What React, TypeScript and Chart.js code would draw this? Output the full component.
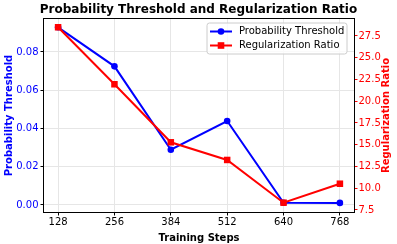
import React, { useEffect, useRef } from "react";
import { Chart, registerables } from "chart.js";
Chart.register(...registerables);

const steps = [128, 256, 384, 512, 640, 768];
const probabilityThreshold = [0.0929, 0.0725, 0.0289, 0.0439, 0.0012, 0.0011];
const regularizationRatio = [28.5, 21.95, 15.28, 13.25, 8.34, 10.52];
const xTicks = [128, 256, 384, 512, 640, 768];
const leftTicks = [0, 0.02, 0.04, 0.06, 0.08];
const rightTicks = [7.5, 10, 12.5, 15, 17.5, 20, 22.5, 25, 27.5];

const FONT = "'DejaVu Sans', sans-serif";
const BLUE = "#0000ff";
const RED = "#ff0000";
const RIGHT_TITLE = "Regularization Ratio";

const framePlugin = {
  id: "frame",
  afterDraw(chart: any) {
    const { ctx, chartArea: a } = chart;
    ctx.save();
    ctx.strokeStyle = "#000";
    ctx.lineWidth = 1;
    ctx.strokeRect(Math.round(a.left) - 0.5, Math.round(a.top) - 0.5, Math.round(a.right - a.left) + 1, Math.round(a.bottom - a.top) + 1);
    // right axis title, rotated like matplotlib (reads bottom to top)
    ctx.translate(386.5, (a.top + a.bottom) / 2);
    ctx.rotate(-Math.PI / 2);
    ctx.fillStyle = RED;
    ctx.font = `bold 10px ${FONT}`;
    ctx.textAlign = "center";
    ctx.textBaseline = "middle";
    ctx.fillText(RIGHT_TITLE, 0, 0);
    ctx.restore();
  },
};

const legendPlugin = {
  id: "customLegend",
  afterDraw(chart: any) {
    const { ctx, chartArea: a } = chart;
    const w = 140;
    const h = 31;
    const x = a.right - 7 - w;
    const y = a.top + 4;
    ctx.save();
    ctx.beginPath();
    const r = 2.5;
    ctx.moveTo(x + r, y);
    ctx.lineTo(x + w - r, y);
    ctx.quadraticCurveTo(x + w, y, x + w, y + r);
    ctx.lineTo(x + w, y + h - r);
    ctx.quadraticCurveTo(x + w, y + h, x + w - r, y + h);
    ctx.lineTo(x + r, y + h);
    ctx.quadraticCurveTo(x, y + h, x, y + h - r);
    ctx.lineTo(x, y + r);
    ctx.quadraticCurveTo(x, y, x + r, y);
    ctx.closePath();
    ctx.fillStyle = "rgba(255,255,255,0.8)";
    ctx.fill();
    ctx.strokeStyle = "#cccccc";
    ctx.lineWidth = 1;
    ctx.stroke();
    const items = [
      { label: "Probability Threshold", color: BLUE, marker: "circle" },
      { label: "Regularization Ratio", color: RED, marker: "rect" },
    ];
    items.forEach((it, i) => {
      const cy = y + 8.5 + i * 14;
      ctx.strokeStyle = it.color;
      ctx.lineWidth = 2;
      ctx.beginPath();
      ctx.moveTo(x + 3, cy);
      ctx.lineTo(x + 25, cy);
      ctx.stroke();
      ctx.fillStyle = it.color;
      if (it.marker === "circle") {
        ctx.beginPath();
        ctx.arc(x + 14, cy, 3.3, 0, Math.PI * 2);
        ctx.fill();
      } else {
        ctx.fillRect(x + 14 - 3.3, cy - 3.3, 6.6, 6.6);
      }
      ctx.fillStyle = "#000";
      ctx.font = `10px ${FONT}`;
      ctx.textBaseline = "middle";
      ctx.textAlign = "left";
      ctx.fillText(it.label, x + 32, cy);
    });
    ctx.restore();
  },
};

export default function App() {
  const ref = useRef<HTMLCanvasElement>(null);
  useEffect(() => {
    if (!ref.current) return;
    const chart = new Chart(ref.current, {
      type: "line",
      data: {
        datasets: [
          {
            label: "Probability Threshold",
            data: steps.map((s, i) => ({ x: s, y: probabilityThreshold[i] })),
            borderColor: BLUE,
            backgroundColor: BLUE,
            borderWidth: 2,
            pointStyle: "circle",
            pointRadius: 3.3,
            pointBorderWidth: 0,
            yAxisID: "y",
            order: 1,
          },
          {
            label: "Regularization Ratio",
            data: steps.map((s, i) => ({ x: s, y: regularizationRatio[i] })),
            borderColor: RED,
            backgroundColor: RED,
            borderWidth: 2,
            pointStyle: "rect",
            pointRadius: 4.6,
            pointBorderWidth: 0,
            yAxisID: "y1",
            order: 0,
          },
        ],
      },
      options: {
        animation: false,
        responsive: true,
        maintainAspectRatio: false,
        layout: { padding: 0 },
        plugins: {
          legend: { display: false },
          tooltip: { enabled: false },
          title: {
            display: true,
            text: "Probability Threshold and Regularization Ratio",
            color: "#000",
            font: { family: FONT, size: 12, weight: "bold", lineHeight: 1.2 },
            padding: { top: 3, bottom: 1.6 },
          },
        },
        scales: {
          x: {
            type: "linear",
            min: 96,
            max: 800,
            afterBuildTicks: (s: any) => {
              s.ticks = xTicks.map((v) => ({ value: v }));
            },
            afterFit: (s: any) => {
              s.height = 32;
            },
            ticks: {
              color: "#000",
              font: { family: FONT, size: 10 },
              padding: 1,
              maxRotation: 0,
              callback: (v: any) => String(v),
            },
            grid: { color: "#e6e6e6", tickColor: "#000", tickLength: 3.5, lineWidth: 1 },
            border: { display: false },
            title: {
              display: true,
              text: "Training Steps",
              color: "#000",
              font: { family: FONT, size: 10, weight: "bold", lineHeight: 1.2 },
              padding: { top: 4.4, bottom: 0 },
            },
          },
          y: {
            type: "linear",
            position: "left",
            min: -0.00366,
            max: 0.09725,
            afterBuildTicks: (s: any) => {
              s.ticks = leftTicks.map((v) => ({ value: v }));
            },
            afterFit: (s: any) => {
              s.width = 44;
            },
            ticks: {
              color: BLUE,
              font: { family: FONT, size: 10 },
              padding: 2,
              callback: (v: any) => Number(v).toFixed(2),
            },
            grid: { color: "#e6e6e6", tickColor: "#000", tickLength: 3.5, lineWidth: 1 },
            border: { display: false },
            title: {
              display: true,
              text: "Probability Threshold",
              color: BLUE,
              font: { family: FONT, size: 10, weight: "bold", lineHeight: 1.2 },
              padding: { top: 3, bottom: 0 },
            },
          },
          y1: {
            type: "linear",
            position: "right",
            min: 7.27,
            max: 29.45,
            afterBuildTicks: (s: any) => {
              s.ticks = rightTicks.map((v) => ({ value: v }));
            },
            afterFit: (s: any) => {
              s.width = 43;
            },
            ticks: {
              color: RED,
              font: { family: FONT, size: 10 },
              padding: 1,
              callback: (v: any) => Number(v).toFixed(1),
            },
            grid: { drawOnChartArea: false, color: RED, tickColor: RED, tickLength: 3.5, lineWidth: 1 },
            border: { display: false },
            title: { display: false },
          },
        },
      },
      plugins: [framePlugin, legendPlugin],
    });
    return () => chart.destroy();
  }, []);
  return (
    <div style={{ position: "absolute", left: 0, top: 0, width: 397, height: 244, background: "#fff" }}>
      <canvas ref={ref} />
    </div>
  );
}
